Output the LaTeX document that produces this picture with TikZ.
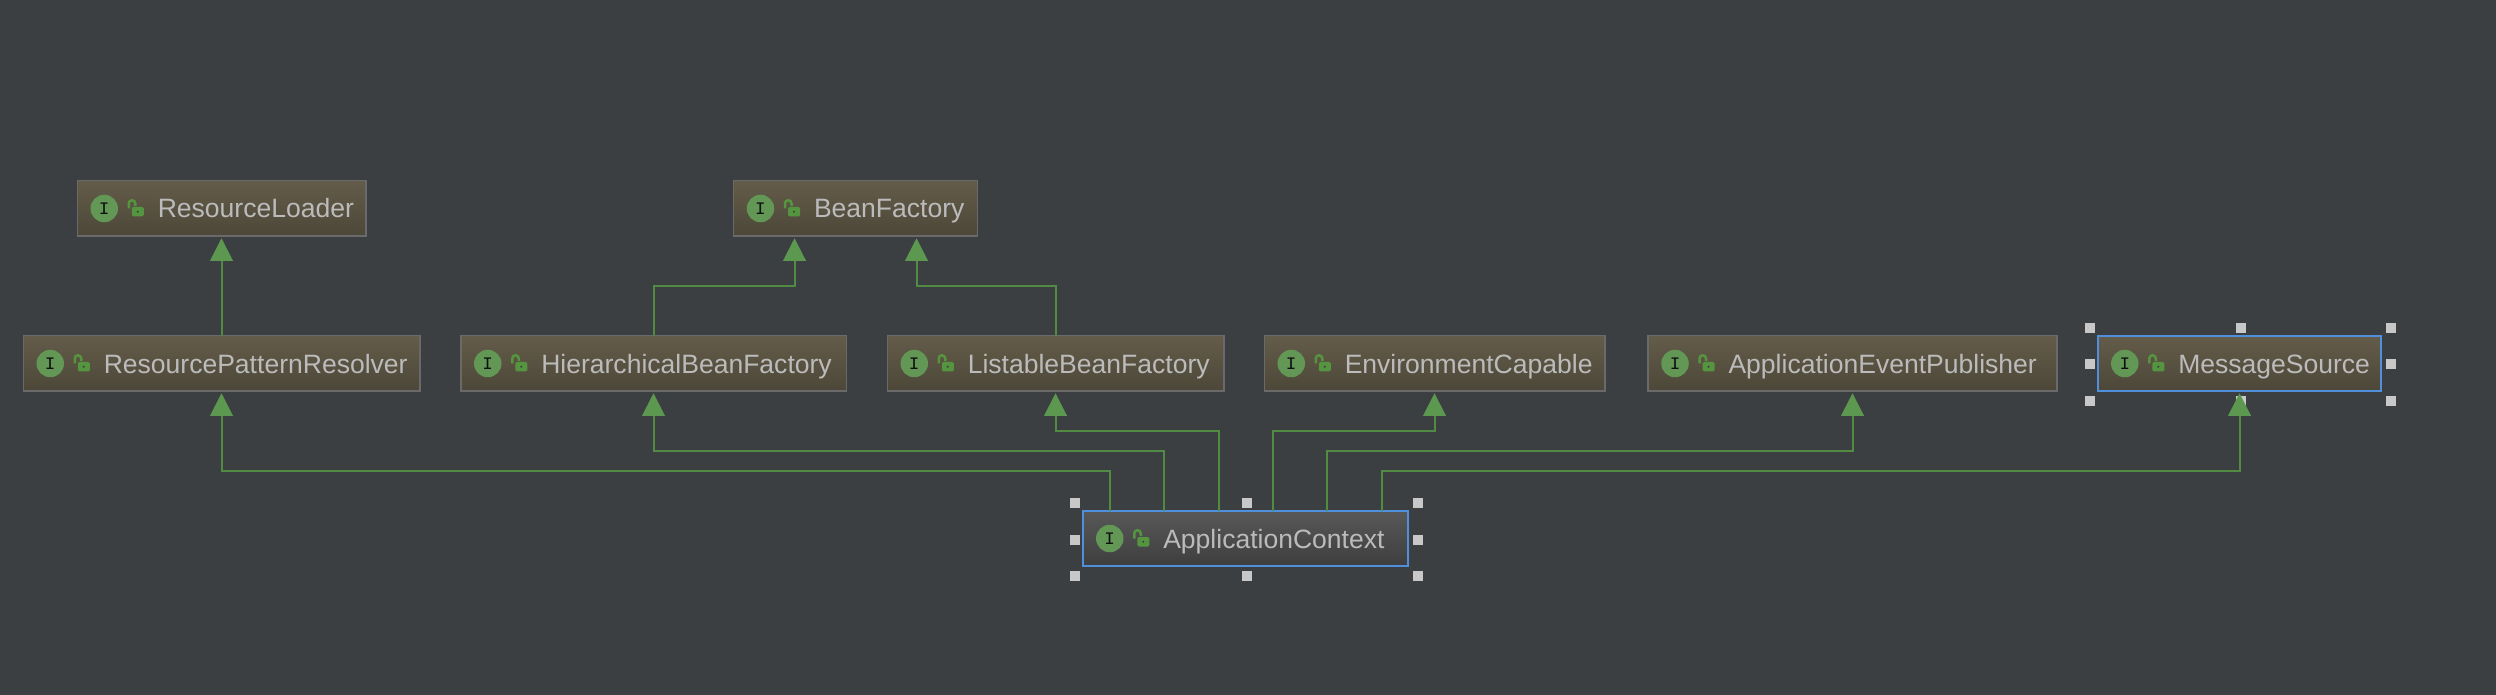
\documentclass[tikz,border=0pt]{standalone}
\usepackage{fontspec}
\setmainfont{Liberation Sans}
\newfontfamily\iconfont{Liberation Mono}
\usetikzlibrary{arrows.meta}
\definecolor{canvas}{HTML}{3C3F41}
\definecolor{boxtop}{HTML}{645C4A}
\definecolor{boxbottom}{HTML}{4C4738}
\definecolor{boxedge}{HTML}{6A6A6A}
\definecolor{picktop}{HTML}{585858}
\definecolor{pickbottom}{HTML}{3E3E3E}
\definecolor{pickedge}{HTML}{4F8FDC}
\definecolor{labeltext}{HTML}{BBBBBB}
\definecolor{ballgreen}{HTML}{629755}
\definecolor{lockgreen}{HTML}{56953F}
\definecolor{linegreen}{HTML}{518A43}
\definecolor{tipgreen}{HTML}{5D9850}
\definecolor{handlegray}{HTML}{C8C8C8}
\tikzstyle{block} = [rectangle, draw=boxedge, line width=.03cm, top color=boxtop, bottom color=boxbottom,
    minimum height=1.11cm, inner xsep=0pt, inner ysep=0pt, outer sep=0pt, align=left,
    text height=.5cm, text depth=.12cm, text=labeltext, font=\fontsize{15.1}{17}\selectfont]
\tikzstyle{picked} = [block, draw=pickedge, line width=.036cm]
\tikzstyle{pickedctx} = [picked, top color=picktop, bottom color=pickbottom]
\tikzstyle{ball} = [circle, fill=ballgreen, minimum size=.55cm, inner sep=0pt, text=black!75!canvas,
    font=\iconfont\fontsize{10}{10}\selectfont]
\tikzstyle{handle} = [rectangle, fill=handlegray, minimum size=.2cm, inner sep=0pt]
\tikzstyle{line} = [draw=linegreen, line width=.04cm, shorten >=.04cm,
    -{Triangle[length=.454cm, width=.454cm, color=tipgreen]}]
% label text starts after the two icons
\newcommand{\iname}[1]{\hspace*{1.61cm}#1}
% round I badge and open padlock, placed from the west side of a box
\newcommand{\icons}[1]{
    \node [ball] at ([xshift=.54cm]#1.west) (#1-ball) {I};
    \draw [lockgreen, line width=.05cm] ([xshift=1.03cm]#1.west) -- ++(0,.1)
        arc [start angle=180, end angle=0, radius=.065] -- ++(0,-.05);
    \fill [lockgreen, rounded corners=.03cm] ([shift={(1.09,-.16)}]#1.west) rectangle ++(.24,.19);
    \fill [canvas] ([shift={(1.21,-.065)}]#1.west) circle (.022);
}
% eight grab squares round a picked box
\newcommand{\grabs}[1]{
    \foreach \anc/\sx/\sy in {north west/-1/1, north/0/1, north east/1/1, west/-1/0, east/1/0,
        south west/-1/-1, south/0/-1, south east/1/-1}
        \node [handle] at ([shift={(\sx*.17+.02,\sy*.17-.02)}]#1.\anc) (#1-\anc) {};
}

\begin{document}
\begin{tikzpicture}
    \useasboundingbox (0,0) rectangle (49.92,13.88);
    \fill [canvas] (-.1,-.1) rectangle (50.02,13.98);

    \node [block, text width=5.77cm] at (4.43,9.71) (loader) {\iname{ResourceLoader}};
    \node [block, text width=4.88cm] at (17.11,9.71) (beanf) {\iname{BeanFactory}};
    \node [block, text width=7.93cm] at (4.43,6.61) (resolver) {\iname{ResourcePatternResolver}};
    \node [block, text width=7.71cm] at (13.07,6.61) (hier) {\iname{HierarchicalBeanFactory}};
    \node [block, text width=6.73cm] at (21.11,6.61) (listable) {\iname{ListableBeanFactory}};
    \node [block, text width=6.81cm] at (28.69,6.61) (envcap) {\iname{EnvironmentCapable}};
    \node [block, text width=8.18cm] at (37.05,6.61) (publisher) {\iname{ApplicationEventPublisher}};
    \node [picked, text width=5.67cm] at (44.79,6.61) (message) {\iname{MessageSource}};
    \node [pickedctx, text width=6.51cm] at (24.91,3.11) (ctx) {\iname{ApplicationContext}};

    \icons{loader}
    \icons{beanf}
    \icons{resolver}
    \icons{hier}
    \icons{listable}
    \icons{envcap}
    \icons{publisher}
    \icons{message}
    \icons{ctx}

    \grabs{message}
    \grabs{ctx}

    \path [line] (resolver) -- (loader);
    \path [line] ([xshift=0cm]hier.north) -- ++(0,1) -| ([xshift=-1.22cm]beanf.south);
    \path [line] ([xshift=0cm]listable.north) -- ++(0,1) -| ([xshift=1.22cm]beanf.south);

    \path [line] ([xshift=-2.71cm]ctx.north) -- ++(0,.79) -| (resolver);
    \path [line] ([xshift=-1.63cm]ctx.north) -- ++(0,1.19) -| (hier);
    \path [line] ([xshift=-.53cm]ctx.north) -- ++(0,1.59) -| (listable);
    \path [line] ([xshift=.54cm]ctx.north) -- ++(0,1.59) -| (envcap);
    \path [line] ([xshift=1.62cm]ctx.north) -- ++(0,1.19) -| (publisher);
    \path [line] ([xshift=2.72cm]ctx.north) -- ++(0,.79) -| (message);
\end{tikzpicture}
\end{document}
